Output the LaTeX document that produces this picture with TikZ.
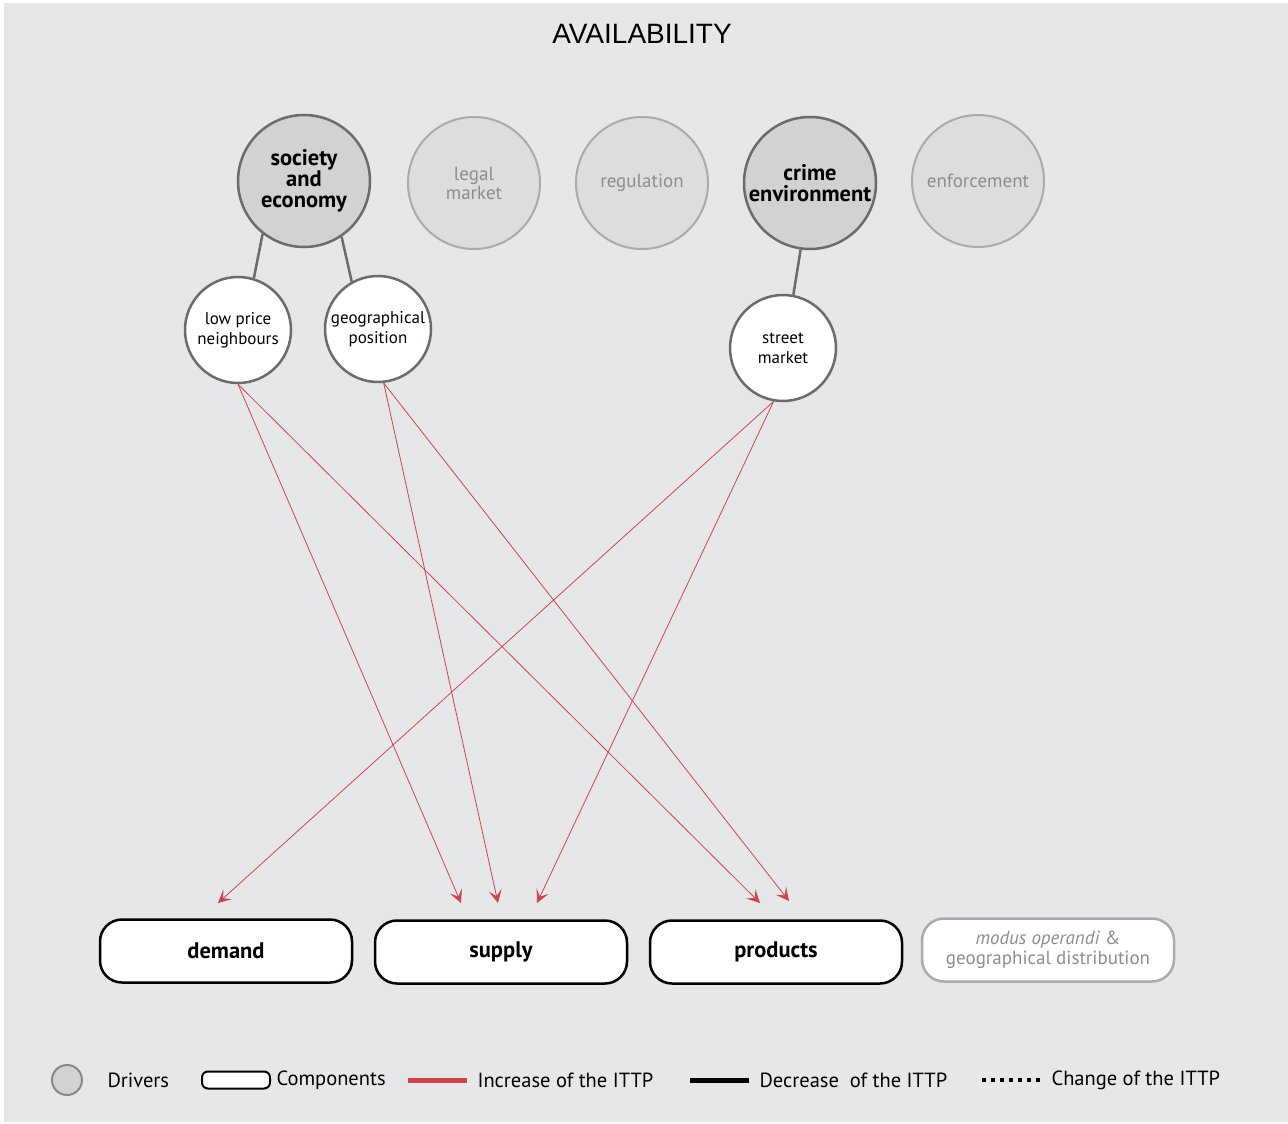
\documentclass[tikz,border=0pt]{standalone}
\usepackage{fontspec}
\setmainfont{PT Sans}
\newfontfamily\titlefont{Liberation Sans}
\usetikzlibrary{arrows.meta,calc}
\definecolor{cbg}{HTML}{E6E7E8}
\definecolor{cdrv}{HTML}{6A6B6D}
\definecolor{cdrvfill}{HTML}{D1D2D4}
\definecolor{cfaint}{HTML}{A9AAAD}
\definecolor{cfaintfill}{HTML}{DCDDDF}
\definecolor{cfainttext}{HTML}{8C8D90}
\definecolor{cred}{HTML}{CF434C}
\tikzset{
  every picture/.style={x=1pt, y=-1pt},
  sdriver/.style={circle, minimum size=132pt, inner sep=0pt, draw=cdrv,
                  line width=2.5pt, fill=cdrvfill, align=center,
                  font=\fontsize{22.5}{21}\selectfont\bfseries},
  sfaint/.style={circle, minimum size=132pt, inner sep=0pt, draw=cfaint,
                 line width=2pt, fill=cfaintfill, text=cfainttext, align=center,
                 font=\fontsize{19}{19}\selectfont},
  ssub/.style={circle, minimum size=106pt, inner sep=0pt, draw=cdrv,
               line width=2.5pt, fill=white, align=center,
               font=\fontsize{17}{20}\selectfont},
  scomp/.style={rounded corners=22pt, draw=black, line width=2.5pt, fill=white,
                minimum width=252pt, minimum height=63pt, align=center,
                font=\fontsize{22.5}{22}\selectfont\bfseries},
  scompfaint/.style={scomp, draw=cfaint, text=cfainttext,
                     font=\fontsize{19}{20}\selectfont},
  slink/.style={draw=cdrv, line width=2.5pt},
  sinc/.style={draw=cred, line width=0.8pt,
               -{Stealth[length=13pt, width=13pt, inset=6pt]}},
  sleg/.style={anchor=west, font=\fontsize{20.5}{20}\selectfont},
}

\begin{document}
\begin{tikzpicture}
  \fill[white] (0,0) rectangle (1288,1124);
  \fill[cbg] (4,3) rectangle (1288,1122);
  \useasboundingbox (0,0) rectangle (1288,1124);
  \node[font=\titlefont\fontsize{28}{28}\selectfont] (title) at (642,34) {AVAILABILITY};
  % drivers
  \node[sdriver] (soc) at (304,181) {society\\and\\economy};
  \node[sfaint] (legal) at (474,183) {legal\\market};
  \node[sfaint] (reg) at (642,183) {regulation};
  \node[sdriver] (crime) at (810,183) {crime\\environment};
  \node[sfaint] (enf) at (978,181) {enforcement};
  % sub-drivers
  \node[ssub] (lpn) at (238,330) {low price\\neighbours};
  \node[ssub] (geo) at (378,329) {geographical\\position};
  \node[ssub] (street) at (783,348) {street\\market};
  \draw[slink] (soc.-128) -- (lpn.73);
  \draw[slink] (soc.-56) -- (geo.119);
  \draw[slink] (crime.-98) -- (street.79);
  % components
  \node[scomp] (demand) at (226,951) {\raisebox{-2pt}{demand}};
  \node[scomp] (supply) at (501,952) {\raisebox{-2pt}{supply}};
  \node[scomp] (products) at (776,952) {\raisebox{-2pt}{products}};
  \node[scompfaint] (modus) at (1048,950) {\textit{modus operandi} \&\\geographical distribution};
  \coordinate (demIn) at (218,903);
  \coordinate (supInA) at (461,903);
  \coordinate (supInB) at (498,903);
  \coordinate (supInC) at (537,903);
  \coordinate (proInA) at (760,903);
  \coordinate (proInB) at (789,901);
  \draw[sinc] (lpn.south) -- (supInA);
  \draw[sinc] (lpn.south) -- (proInA);
  \draw[sinc] (geo.-84) -- (supInB);
  \draw[sinc] (geo.-84) -- (proInB);
  \draw[sinc] (street.-100) -- (demIn);
  \draw[sinc] (street.-100) -- (supInC);
  % legend
  \node[circle, minimum size=30pt, inner sep=0pt, draw=cdrv!80, line width=2pt,
        fill=cdrvfill] (kdrv) at (67,1080) {};
  \node[sleg] (kdrvt) at (104,1080) {Drivers};
  \node[rounded corners=6pt, draw=black, line width=2pt, fill=white,
        minimum width=68pt, minimum height=17pt, inner sep=0pt] (kcomp) at (236,1080) {};
  \node[sleg] (kcompt) at (273,1080) {Components};
  \coordinate (kincA) at (408,1080);
  \coordinate (kincB) at (467,1080);
  \draw[cred, line width=5pt] (kincA) -- (kincB);
  \node[sleg] (kinct) at (474,1080) {Increase of the ITTP};
  \coordinate (kdecA) at (690,1080);
  \coordinate (kdecB) at (749,1080);
  \draw[black, line width=5pt] (kdecA) -- (kdecB);
  \node[sleg] (kdect) at (756,1080) {Decrease\ \ of the ITTP};
  \coordinate (kchgA) at (982,1080);
  \coordinate (kchgB) at (1042,1080);
  \draw[black, line width=4pt, dash pattern=on 4pt off 5pt] (kchgA) -- (kchgB);
  \node[sleg] (kchgt) at (1048,1080) {Change of the ITTP};
\end{tikzpicture}
\end{document}
